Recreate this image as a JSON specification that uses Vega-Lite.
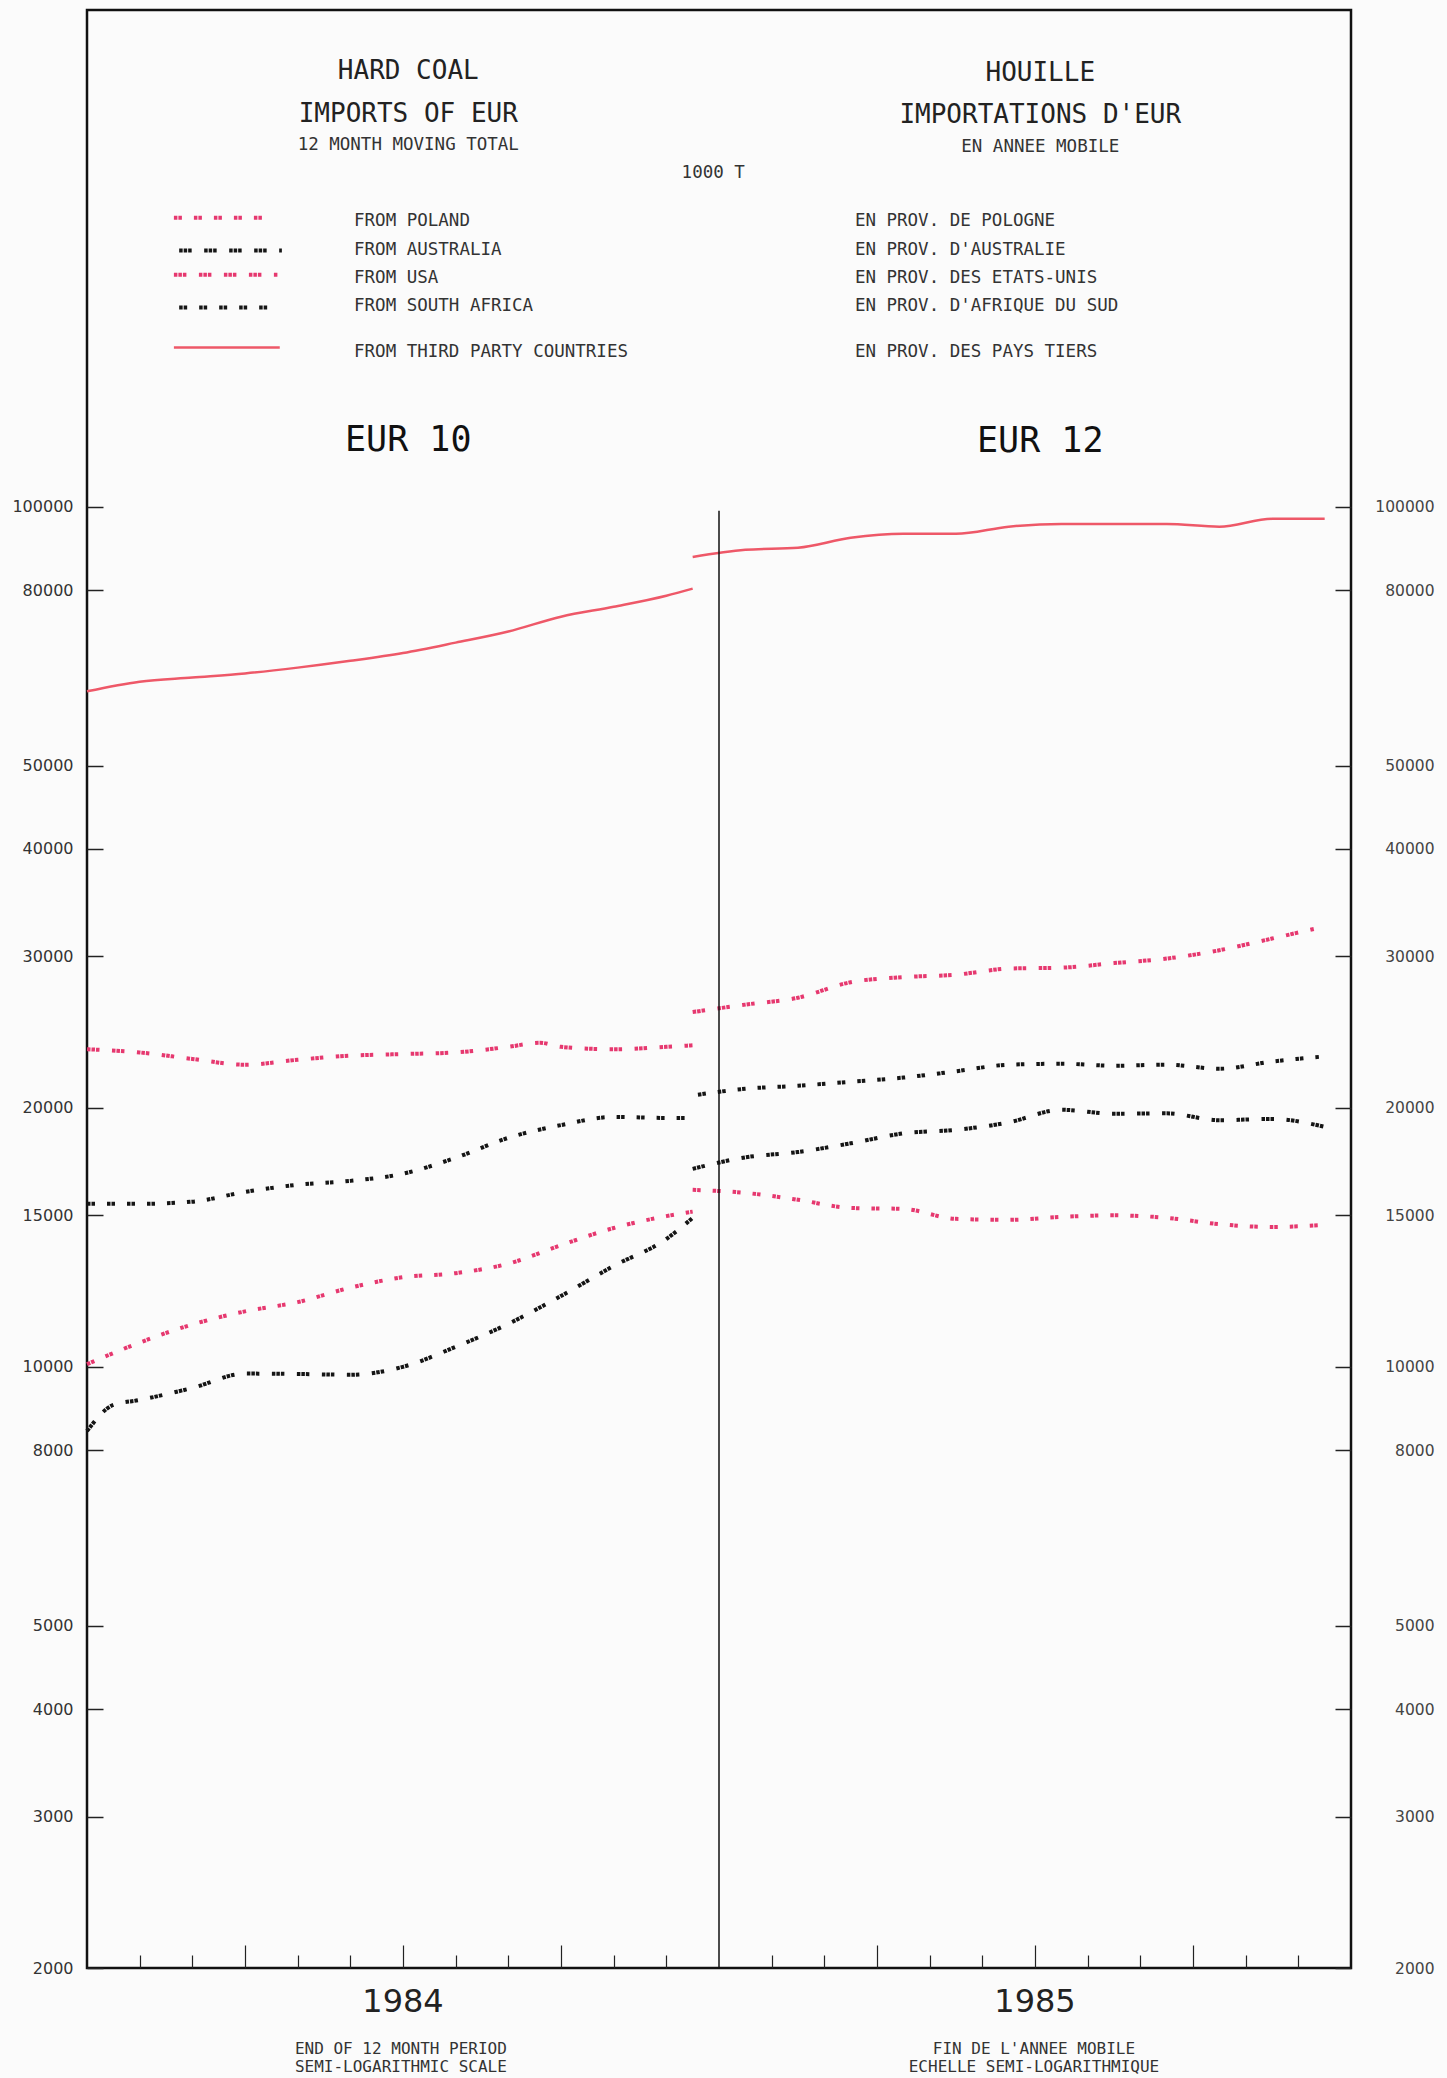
{
  "$schema": "https://vega.github.io/schema/vega-lite/v6.json",
  "width": 1264,
  "height": 1958,
  "autosize": {"type": "none"},
  "padding": {"left": 87, "top": 10, "right": 96, "bottom": 110},
  "background": "#fbfbfb",
  "config": {
    "view": {"stroke": "#111111", "strokeWidth": 2.5},
    "axis": {"grid": false, "domain": false, "title": null, "labelFont": "DejaVu Sans", "labelFontSize": 16, "labelColor": "#333333", "tickColor": "#222222", "tickWidth": 1.5},
    "text": {"font": "DejaVu Sans Mono", "color": "#222222"}
  },
  "datasets": {
    "series": [
      {"s": "Poland", "p": "EUR10", "m": 0, "v": 10070},
      {"s": "Poland", "p": "EUR10", "m": 1, "v": 10670},
      {"s": "Poland", "p": "EUR10", "m": 2, "v": 11200},
      {"s": "Poland", "p": "EUR10", "m": 3, "v": 11600},
      {"s": "Poland", "p": "EUR10", "m": 4, "v": 11890},
      {"s": "Poland", "p": "EUR10", "m": 5, "v": 12360},
      {"s": "Poland", "p": "EUR10", "m": 6, "v": 12710},
      {"s": "Poland", "p": "EUR10", "m": 7, "v": 12850},
      {"s": "Poland", "p": "EUR10", "m": 8, "v": 13180},
      {"s": "Poland", "p": "EUR10", "m": 9, "v": 13850},
      {"s": "Poland", "p": "EUR10", "m": 10, "v": 14500},
      {"s": "Poland", "p": "EUR10", "m": 11, "v": 14970},
      {"s": "Poland", "p": "EUR10", "m": 11.5, "v": 15150},
      {"s": "Poland", "p": "EUR12", "m": 11.5, "v": 16060},
      {"s": "Poland", "p": "EUR12", "m": 12.5, "v": 15930},
      {"s": "Poland", "p": "EUR12", "m": 13.5, "v": 15640},
      {"s": "Poland", "p": "EUR12", "m": 14.5, "v": 15300},
      {"s": "Poland", "p": "EUR12", "m": 15.5, "v": 15260},
      {"s": "Poland", "p": "EUR12", "m": 16.5, "v": 14860},
      {"s": "Poland", "p": "EUR12", "m": 17.5, "v": 14820},
      {"s": "Poland", "p": "EUR12", "m": 18.5, "v": 14940},
      {"s": "Poland", "p": "EUR12", "m": 19.5, "v": 15000},
      {"s": "Poland", "p": "EUR12", "m": 20.5, "v": 14900},
      {"s": "Poland", "p": "EUR12", "m": 21.5, "v": 14650},
      {"s": "Poland", "p": "EUR12", "m": 22.5, "v": 14540},
      {"s": "Poland", "p": "EUR12", "m": 23.5, "v": 14620},
      {"s": "Australia", "p": "EUR10", "m": 0, "v": 8420},
      {"s": "Australia", "p": "EUR10", "m": 0.5, "v": 9030},
      {"s": "Australia", "p": "EUR10", "m": 1, "v": 9150},
      {"s": "Australia", "p": "EUR10", "m": 2, "v": 9450},
      {"s": "Australia", "p": "EUR10", "m": 3, "v": 9820},
      {"s": "Australia", "p": "EUR10", "m": 4, "v": 9810},
      {"s": "Australia", "p": "EUR10", "m": 5, "v": 9790},
      {"s": "Australia", "p": "EUR10", "m": 6, "v": 10000},
      {"s": "Australia", "p": "EUR10", "m": 7, "v": 10550},
      {"s": "Australia", "p": "EUR10", "m": 8, "v": 11220},
      {"s": "Australia", "p": "EUR10", "m": 9, "v": 12090},
      {"s": "Australia", "p": "EUR10", "m": 10, "v": 13100},
      {"s": "Australia", "p": "EUR10", "m": 11, "v": 14080},
      {"s": "Australia", "p": "EUR10", "m": 11.5, "v": 14900},
      {"s": "Australia", "p": "EUR12", "m": 11.5, "v": 16990},
      {"s": "Australia", "p": "EUR12", "m": 12.5, "v": 17520},
      {"s": "Australia", "p": "EUR12", "m": 13.5, "v": 17770},
      {"s": "Australia", "p": "EUR12", "m": 14.5, "v": 18190},
      {"s": "Australia", "p": "EUR12", "m": 15.5, "v": 18680},
      {"s": "Australia", "p": "EUR12", "m": 16.5, "v": 18860},
      {"s": "Australia", "p": "EUR12", "m": 17.5, "v": 19240},
      {"s": "Australia", "p": "EUR12", "m": 18.5, "v": 19900},
      {"s": "Australia", "p": "EUR12", "m": 19.5, "v": 19690},
      {"s": "Australia", "p": "EUR12", "m": 20.5, "v": 19710},
      {"s": "Australia", "p": "EUR12", "m": 21.5, "v": 19350},
      {"s": "Australia", "p": "EUR12", "m": 22.5, "v": 19420},
      {"s": "Australia", "p": "EUR12", "m": 23.5, "v": 19010},
      {"s": "USA", "p": "EUR10", "m": 0, "v": 23400},
      {"s": "USA", "p": "EUR10", "m": 1, "v": 23200},
      {"s": "USA", "p": "EUR10", "m": 2, "v": 22800},
      {"s": "USA", "p": "EUR10", "m": 3, "v": 22450},
      {"s": "USA", "p": "EUR10", "m": 4, "v": 22750},
      {"s": "USA", "p": "EUR10", "m": 5, "v": 23000},
      {"s": "USA", "p": "EUR10", "m": 6, "v": 23100},
      {"s": "USA", "p": "EUR10", "m": 7, "v": 23200},
      {"s": "USA", "p": "EUR10", "m": 8, "v": 23550},
      {"s": "USA", "p": "EUR10", "m": 8.6, "v": 23810},
      {"s": "USA", "p": "EUR10", "m": 9, "v": 23550},
      {"s": "USA", "p": "EUR10", "m": 10, "v": 23400},
      {"s": "USA", "p": "EUR10", "m": 11, "v": 23550},
      {"s": "USA", "p": "EUR10", "m": 11.5, "v": 23650},
      {"s": "USA", "p": "EUR12", "m": 11.5, "v": 25850},
      {"s": "USA", "p": "EUR12", "m": 12.5, "v": 26370},
      {"s": "USA", "p": "EUR12", "m": 13.5, "v": 26860},
      {"s": "USA", "p": "EUR12", "m": 14.5, "v": 28000},
      {"s": "USA", "p": "EUR12", "m": 15.5, "v": 28380},
      {"s": "USA", "p": "EUR12", "m": 16.5, "v": 28570},
      {"s": "USA", "p": "EUR12", "m": 17.5, "v": 29040},
      {"s": "USA", "p": "EUR12", "m": 18.5, "v": 29110},
      {"s": "USA", "p": "EUR12", "m": 19.5, "v": 29470},
      {"s": "USA", "p": "EUR12", "m": 20.5, "v": 29830},
      {"s": "USA", "p": "EUR12", "m": 21.5, "v": 30500},
      {"s": "USA", "p": "EUR12", "m": 22.5, "v": 31470},
      {"s": "USA", "p": "EUR12", "m": 23.3, "v": 32300},
      {"s": "SouthAfrica", "p": "EUR10", "m": 0, "v": 15470},
      {"s": "SouthAfrica", "p": "EUR10", "m": 1, "v": 15470},
      {"s": "SouthAfrica", "p": "EUR10", "m": 2, "v": 15560},
      {"s": "SouthAfrica", "p": "EUR10", "m": 3, "v": 15970},
      {"s": "SouthAfrica", "p": "EUR10", "m": 4, "v": 16280},
      {"s": "SouthAfrica", "p": "EUR10", "m": 5, "v": 16450},
      {"s": "SouthAfrica", "p": "EUR10", "m": 6, "v": 16770},
      {"s": "SouthAfrica", "p": "EUR10", "m": 7, "v": 17500},
      {"s": "SouthAfrica", "p": "EUR10", "m": 8, "v": 18460},
      {"s": "SouthAfrica", "p": "EUR10", "m": 9, "v": 19100},
      {"s": "SouthAfrica", "p": "EUR10", "m": 10, "v": 19520},
      {"s": "SouthAfrica", "p": "EUR10", "m": 11, "v": 19470},
      {"s": "SouthAfrica", "p": "EUR10", "m": 11.5, "v": 19470},
      {"s": "SouthAfrica", "p": "EUR12", "m": 11.6, "v": 20720},
      {"s": "SouthAfrica", "p": "EUR12", "m": 12.5, "v": 21050},
      {"s": "SouthAfrica", "p": "EUR12", "m": 13.5, "v": 21220},
      {"s": "SouthAfrica", "p": "EUR12", "m": 14.5, "v": 21450},
      {"s": "SouthAfrica", "p": "EUR12", "m": 15.5, "v": 21690},
      {"s": "SouthAfrica", "p": "EUR12", "m": 16.5, "v": 22060},
      {"s": "SouthAfrica", "p": "EUR12", "m": 17.5, "v": 22450},
      {"s": "SouthAfrica", "p": "EUR12", "m": 18.5, "v": 22510},
      {"s": "SouthAfrica", "p": "EUR12", "m": 19.5, "v": 22390},
      {"s": "SouthAfrica", "p": "EUR12", "m": 20.5, "v": 22450},
      {"s": "SouthAfrica", "p": "EUR12", "m": 21.5, "v": 22210},
      {"s": "SouthAfrica", "p": "EUR12", "m": 22.5, "v": 22640},
      {"s": "SouthAfrica", "p": "EUR12", "m": 23.4, "v": 22930},
      {"s": "Third", "p": "EUR10", "m": 0, "v": 61000},
      {"s": "Third", "p": "EUR10", "m": 1, "v": 62600},
      {"s": "Third", "p": "EUR10", "m": 2, "v": 63300},
      {"s": "Third", "p": "EUR10", "m": 3, "v": 64000},
      {"s": "Third", "p": "EUR10", "m": 4, "v": 65000},
      {"s": "Third", "p": "EUR10", "m": 5, "v": 66200},
      {"s": "Third", "p": "EUR10", "m": 6, "v": 67600},
      {"s": "Third", "p": "EUR10", "m": 7, "v": 69500},
      {"s": "Third", "p": "EUR10", "m": 8, "v": 71600},
      {"s": "Third", "p": "EUR10", "m": 9, "v": 74500},
      {"s": "Third", "p": "EUR10", "m": 10, "v": 76500},
      {"s": "Third", "p": "EUR10", "m": 11, "v": 78800},
      {"s": "Third", "p": "EUR10", "m": 11.5, "v": 80300},
      {"s": "Third", "p": "EUR12", "m": 11.5, "v": 87400},
      {"s": "Third", "p": "EUR12", "m": 12.5, "v": 89100},
      {"s": "Third", "p": "EUR12", "m": 13.5, "v": 89600},
      {"s": "Third", "p": "EUR12", "m": 14.5, "v": 92000},
      {"s": "Third", "p": "EUR12", "m": 15.5, "v": 93000},
      {"s": "Third", "p": "EUR12", "m": 16.5, "v": 93000},
      {"s": "Third", "p": "EUR12", "m": 17.5, "v": 94800},
      {"s": "Third", "p": "EUR12", "m": 18.5, "v": 95500},
      {"s": "Third", "p": "EUR12", "m": 19.5, "v": 95500},
      {"s": "Third", "p": "EUR12", "m": 20.5, "v": 95500},
      {"s": "Third", "p": "EUR12", "m": 21.5, "v": 94800},
      {"s": "Third", "p": "EUR12", "m": 22.5, "v": 96800},
      {"s": "Third", "p": "EUR12", "m": 23.5, "v": 96800}
    ],
    "legendLines": [
      {"s": "Poland", "m": 1.65, "v": 216800},
      {"s": "Poland", "m": 3.51, "v": 216800},
      {"s": "Australia", "m": 1.75, "v": 198500},
      {"s": "Australia", "m": 3.7, "v": 198500},
      {"s": "USA", "m": 1.65, "v": 186100},
      {"s": "USA", "m": 3.63, "v": 186100},
      {"s": "SouthAfrica", "m": 1.75, "v": 170400},
      {"s": "SouthAfrica", "m": 3.63, "v": 170400},
      {"s": "Third", "m": 1.65, "v": 153100},
      {"s": "Third", "m": 3.66, "v": 153100}
    ],
    "legendText": [
      {"en": "FROM POLAND", "fr": "EN PROV. DE POLOGNE", "v": 215100},
      {"en": "FROM AUSTRALIA", "fr": "EN PROV. D'AUSTRALIE", "v": 199000},
      {"en": "FROM USA", "fr": "EN PROV. DES ETATS-UNIS", "v": 184600},
      {"en": "FROM SOUTH AFRICA", "fr": "EN PROV. D'AFRIQUE DU SUD", "v": 171300},
      {"en": "FROM THIRD PARTY COUNTRIES", "fr": "EN PROV. DES PAYS TIERS", "v": 151400}
    ]
  },
  "layer": [
    {
      "data": {"name": "series"},
      "transform": [{"filter": "datum.s !== 'Third'"}],
      "mark": {"type": "line", "strokeWidth": 4, "strokeCap": "butt", "interpolate": "monotone"},
      "encoding": {
        "x": {"field": "m", "type": "quantitative", "scale": {"domain": [0, 24], "nice": false, "zero": false},
          "axis": {"orient": "bottom", "values": [1,2,4,5,7,8,10,11,13,14,16,17,19,20,22,23], "labels": false, "tickWidth": 1.2, "tickSize": -13}},
        "y": {"field": "v", "type": "quantitative", "scale": {"type": "log", "domain": [2000, 378000], "nice": false},
          "axis": {"orient": "left", "values": [2000,3000,4000,5000,8000,10000,15000,20000,30000,40000,50000,80000,100000], "format": "d", "tickSize": -16, "labelPadding": 30}},
        "color": {"field": "s", "type": "nominal", "scale": {"domain": ["Poland", "Australia", "USA", "SouthAfrica"], "range": ["#e6386f", "#151515", "#e6386f", "#151515"]}, "legend": null},
        "strokeDash": {"field": "s", "type": "nominal", "scale": {"domain": ["Poland", "Australia", "USA", "SouthAfrica"], "range": [[3.5,1,3.5,12],[3.5,1,3.5,1,3.5,12.5],[3.5,1,3.5,1,3.5,12.5],[3.5,1,3.5,12]]}, "legend": null},
        "detail": {"field": "p", "type": "nominal"}
      }
    },
    {
      "data": {"name": "series"},
      "transform": [{"filter": "datum.s === 'Third'"}],
      "mark": {"type": "line", "strokeWidth": 2.5, "color": "#ee5868", "interpolate": "monotone"},
      "encoding": {
        "x": {"field": "m", "type": "quantitative", "scale": {"domain": [0, 24], "nice": false, "zero": false},
          "axis": {"orient": "bottom", "values": [3,6,9,15,18,21], "labels": false, "tickWidth": 1.2, "tickSize": -23}},
        "y": {"field": "v", "type": "quantitative", "scale": {"type": "log", "domain": [2000, 378000], "nice": false},
          "axis": {"orient": "right", "values": [2000,3000,4000,5000,8000,10000,15000,20000,30000,40000,50000,80000,100000], "format": "d", "tickSize": -16, "labelPadding": 99, "labelAlign": "right", "labelColor": "#444444", "labelFontSize": 15.5}},
        "detail": {"field": "p", "type": "nominal"}
      }
    },
    {
      "data": {"values": [{"m": 12, "v": 98900, "v2": 2000}]},
      "mark": {"type": "rule", "color": "#111111", "strokeWidth": 1.5},
      "encoding": {
        "x": {"field": "m", "type": "quantitative", "scale": {"domain": [0, 24], "nice": false, "zero": false}, "axis": null},
        "y": {"field": "v", "type": "quantitative", "scale": {"type": "log", "domain": [2000, 378000], "nice": false}, "axis": null},
        "y2": {"field": "v2"}
      }
    },
    {
      "data": {"name": "legendLines"},
      "transform": [{"filter": "datum.s !== 'Third'"}],
      "mark": {"type": "line", "strokeWidth": 4, "strokeCap": "butt"},
      "encoding": {
        "x": {"field": "m", "type": "quantitative", "scale": {"domain": [0, 24], "nice": false, "zero": false}, "axis": null},
        "y": {"field": "v", "type": "quantitative", "scale": {"type": "log", "domain": [2000, 378000], "nice": false}, "axis": null},
        "color": {"field": "s", "type": "nominal", "legend": null},
        "strokeDash": {"field": "s", "type": "nominal", "legend": null}
      }
    },
    {
      "data": {"name": "legendLines"},
      "transform": [{"filter": "datum.s === 'Third'"}],
      "mark": {"type": "line", "strokeWidth": 2.5, "color": "#ee5868"},
      "encoding": {
        "x": {"field": "m", "type": "quantitative", "scale": {"domain": [0, 24], "nice": false, "zero": false}, "axis": null},
        "y": {"field": "v", "type": "quantitative", "scale": {"type": "log", "domain": [2000, 378000], "nice": false}, "axis": null}
      }
    },
    {
      "data": {"name": "legendText"},
      "mark": {"type": "text", "align": "left", "fontSize": 17.5, "color": "#333333"},
      "encoding": {
        "x": {"datum": 5.07, "type": "quantitative", "scale": {"domain": [0, 24], "nice": false, "zero": false}, "axis": null},
        "y": {"field": "v", "type": "quantitative", "scale": {"type": "log", "domain": [2000, 378000], "nice": false}, "axis": null},
        "text": {"field": "en"}
      }
    },
    {
      "data": {"name": "legendText"},
      "mark": {"type": "text", "align": "left", "fontSize": 17.5, "color": "#333333"},
      "encoding": {
        "x": {"datum": 14.58, "type": "quantitative", "scale": {"domain": [0, 24], "nice": false, "zero": false}, "axis": null},
        "y": {"field": "v", "type": "quantitative", "scale": {"type": "log", "domain": [2000, 378000], "nice": false}, "axis": null},
        "text": {"field": "fr"}
      }
    },
    {
      "data": {"values": [
        {"t": "HARD COAL", "m": 6.1, "v": 321400},
        {"t": "IMPORTS OF EUR", "m": 6.1, "v": 286400},
        {"t": "HOUILLE", "m": 18.1, "v": 319700},
        {"t": "IMPORTATIONS D'EUR", "m": 18.1, "v": 285700}
      ]},
      "mark": {"type": "text", "fontSize": 26},
      "encoding": {
        "x": {"field": "m", "type": "quantitative", "scale": {"domain": [0, 24], "nice": false, "zero": false}, "axis": null},
        "y": {"field": "v", "type": "quantitative", "scale": {"type": "log", "domain": [2000, 378000], "nice": false}, "axis": null},
        "text": {"field": "t"}
      }
    },
    {
      "data": {"values": [
        {"t": "12 MONTH MOVING TOTAL", "m": 6.1, "v": 263600},
        {"t": "EN ANNEE MOBILE", "m": 18.1, "v": 262100},
        {"t": "1000 T", "m": 11.89, "v": 244600}
      ]},
      "mark": {"type": "text", "fontSize": 17.5, "color": "#333333"},
      "encoding": {
        "x": {"field": "m", "type": "quantitative", "scale": {"domain": [0, 24], "nice": false, "zero": false}, "axis": null},
        "y": {"field": "v", "type": "quantitative", "scale": {"type": "log", "domain": [2000, 378000], "nice": false}, "axis": null},
        "text": {"field": "t"}
      }
    },
    {
      "data": {"values": [
        {"t": "EUR 10", "m": 6.1, "v": 119500},
        {"t": "EUR 12", "m": 18.1, "v": 119300}
      ]},
      "mark": {"type": "text", "fontSize": 35, "color": "#111111"},
      "encoding": {
        "x": {"field": "m", "type": "quantitative", "scale": {"domain": [0, 24], "nice": false, "zero": false}, "axis": null},
        "y": {"field": "v", "type": "quantitative", "scale": {"type": "log", "domain": [2000, 378000], "nice": false}, "axis": null},
        "text": {"field": "t"}
      }
    },
    {
      "data": {"values": [
        {"t": "1984", "m": 6, "v": 1826},
        {"t": "1985", "m": 18, "v": 1826}
      ]},
      "mark": {"type": "text", "fontSize": 32, "font": "DejaVu Sans", "color": "#222222"},
      "encoding": {
        "x": {"field": "m", "type": "quantitative", "scale": {"domain": [0, 24], "nice": false, "zero": false}, "axis": null},
        "y": {"field": "v", "type": "quantitative", "scale": {"type": "log", "domain": [2000, 378000], "nice": false}, "axis": null},
        "text": {"field": "t"}
      }
    },
    {
      "data": {"values": [
        {"t": "END OF 12 MONTH PERIOD", "m": 5.96, "v": 1611},
        {"t": "SEMI-LOGARITHMIC SCALE", "m": 5.96, "v": 1535},
        {"t": "FIN DE L'ANNEE MOBILE", "m": 17.98, "v": 1611},
        {"t": "ECHELLE SEMI-LOGARITHMIQUE", "m": 17.98, "v": 1535}
      ]},
      "mark": {"type": "text", "fontSize": 16, "color": "#333333"},
      "encoding": {
        "x": {"field": "m", "type": "quantitative", "scale": {"domain": [0, 24], "nice": false, "zero": false}, "axis": null},
        "y": {"field": "v", "type": "quantitative", "scale": {"type": "log", "domain": [2000, 378000], "nice": false}, "axis": null},
        "text": {"field": "t"}
      }
    }
  ],
  "resolve": {"axis": {"y": "independent", "x": "independent"}}
}
